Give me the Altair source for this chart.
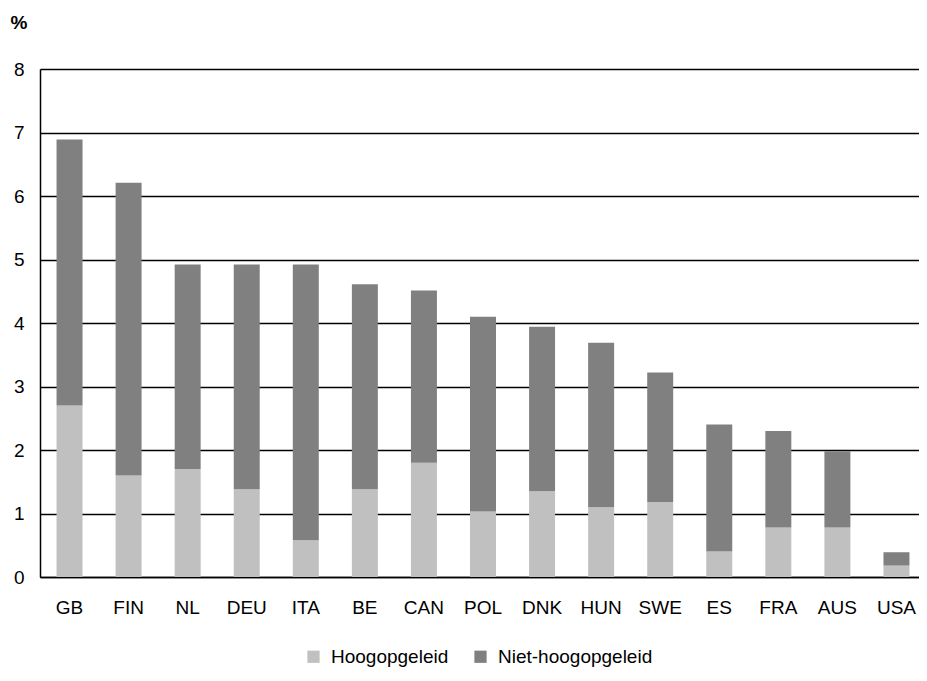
import altair as alt
import pandas as pd

countries = ["GB", "FIN", "NL", "DEU", "ITA", "BE", "CAN", "POL", "DNK", "HUN", "SWE", "ES", "FRA", "AUS", "USA"]
hoogopgeleid = [2.70, 1.60, 1.70, 1.38, 0.58, 1.38, 1.80, 1.03, 1.35, 1.10, 1.18, 0.40, 0.78, 0.78, 0.18]
niet_hoogopgeleid = [4.19, 4.61, 3.22, 3.54, 4.34, 3.23, 2.71, 3.07, 2.59, 2.59, 2.04, 2.00, 1.52, 1.20, 0.21]
series = ["Hoogopgeleid", "Niet-hoogopgeleid"]
colors = ["#c0c0c0", "#808080"]

rows = []
for i, c in enumerate(countries):
    rows.append({"land": c, "groep": series[0], "waarde": hoogopgeleid[i], "volg": 0})
    rows.append({"land": c, "groep": series[1], "waarde": niet_hoogopgeleid[i], "volg": 1})
df = pd.DataFrame(rows)

FONT = "Liberation Sans"

chart = alt.Chart(df).mark_bar().encode(
    x=alt.X("land:N", sort=countries,
            scale=alt.Scale(paddingInner=0.56, paddingOuter=0.28, range=[0, 886]),
            axis=alt.Axis(title=None, labelAngle=0, ticks=False, labelPadding=21,
                          labelFontSize=19, labelColor="#000000", labelFont=FONT,
                          domain=True, domainColor="#000000", domainWidth=1.5)),
    y=alt.Y("waarde:Q", stack="zero",
            scale=alt.Scale(domain=[0, 8], nice=False),
            axis=alt.Axis(values=[0, 1, 2, 3, 4, 5, 6, 7, 8], title="%",
                          titleAngle=0, titleAlign="left", titleBaseline="alphabetic",
                          titleX=-30, titleY=-41, titleFontSize=19, titleFont=FONT,
                          titleFontWeight="bold", titleColor="#000000",
                          ticks=False, labelPadding=16, labelFontSize=19,
                          labelFont=FONT, labelColor="#000000",
                          grid=True, gridColor="#000000", gridWidth=1.5,
                          domain=True, domainColor="#000000", domainWidth=1.5)),
    color=alt.Color("groep:N", scale=alt.Scale(domain=series, range=colors),
                    legend=alt.Legend(title=None, orient="none", direction="horizontal",
                                      legendX=264, legendY=578,
                                      symbolType="square", symbolSize=150,
                                      symbolStrokeWidth=0, labelFontSize=19,
                                      labelFont=FONT, labelColor="#000000",
                                      labelOffset=8, columnPadding=22)),
    order=alt.Order("volg:Q", sort="ascending"),
).properties(
    width=879,
    height=508,
    autosize=alt.AutoSizeParams(type="none"),
    padding={"left": 32, "top": 61, "right": 0, "bottom": 95},
).configure_view(stroke=None).configure(background="#ffffff")

chart.save("out.html", embed_options={"renderer": "svg", "actions": False})
